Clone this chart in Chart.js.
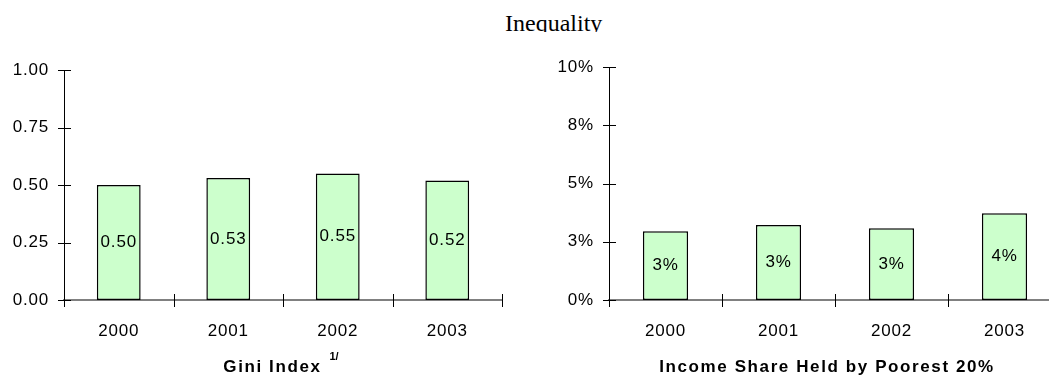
<!DOCTYPE html>
<html lang="en">
<head>
    <meta charset="UTF-8">
    <title>Inequality</title>
    <script src="https://cdn.jsdelivr.net/npm/chart.js"></script>
    <style>
        body { margin: 0; background: #fff; }
        .page { position: relative; width: 1049px; height: 381px; overflow: hidden; background: #fff; }
        .heading { position: absolute; left: 0; top: 0; width: 1049px; height: 32px; overflow: hidden; }
        .heading span { position: absolute; left: 505px; top: 11px; font: 24px/24px "Liberation Serif", "Times New Roman", serif; color: #000; }
        #giniChart { position: absolute; left: 0; top: 0; }
        #shareChart { position: absolute; left: 545px; top: 0; }
    </style>
</head>
<body>
<div class="page">
    <div class="heading"><span>Inequality</span></div>
    <canvas id="giniChart" width="520" height="381"></canvas>
    <canvas id="shareChart" width="520" height="381"></canvas>
</div>

<script>
    const years = ['2000', '2001', '2002', '2003'];
    const giniValues = [0.50, 0.53, 0.55, 0.52];
    const poorestShare = [2.95, 3.22, 3.08, 3.72]; // percent of income
    const giniTicks = [0, 0.25, 0.5, 0.75, 1];
    const shareTicks = [0, 2.5, 5, 7.5, 10];

    const FONT = '"Liberation Sans", Arial, sans-serif';
    Chart.defaults.font.family = FONT;
    Chart.defaults.font.size = 17;
    Chart.defaults.color = '#000';

    // small crosses on both axes at every tick / category boundary
    const crossTicks = {
        id: 'crossTicks',
        afterDatasetsDraw(chart) {
            const { ctx, scales: { x, y } } = chart;
            ctx.save();
            ctx.strokeStyle = '#000';
            ctx.lineWidth = 1;
            ctx.beginPath();
            y.ticks.forEach(t => {
                const py = Math.round(y.getPixelForValue(t.value)) + 0.5;
                ctx.moveTo(x.left - 6, py);
                ctx.lineTo(x.left + 7, py);
            });
            for (let i = 0; i <= x.ticks.length; i++) {
                const px = Math.round(x.getPixelForValue(i - 0.5)) + 0.5;
                ctx.moveTo(px, y.bottom - 6);
                ctx.lineTo(px, y.bottom + 7);
            }
            ctx.stroke();
            ctx.restore();
        }
    };

    // value printed in the middle of each bar
    const barValues = {
        id: 'barValues',
        afterDatasetsDraw(chart, args, opts) {
            const { ctx } = chart;
            const data = chart.data.datasets[0].data;
            ctx.save();
            ctx.font = '17px ' + FONT;
            ctx.letterSpacing = '0.8px';
            ctx.fillStyle = '#000';
            ctx.textAlign = 'center';
            ctx.textBaseline = 'middle';
            chart.getDatasetMeta(0).data.forEach((bar, i) => {
                const v = data[i];
                const txt = opts.percent ? Math.round(v) + '%' : v.toFixed(2);
                ctx.fillText(txt, bar.x, (bar.y + bar.base) / 2);
            });
            ctx.restore();
        }
    };

    // bold caption under the x axis, with optional superscript note
    const axisCaption = {
        id: 'axisCaption',
        beforeDraw(chart) {
            chart.ctx.letterSpacing = '0.8px';
        },
        afterDraw(chart, args, opts) {
            const { ctx, chartArea } = chart;
            ctx.save();
            ctx.fillStyle = '#000';
            ctx.textAlign = 'left';
            ctx.textBaseline = 'alphabetic';
            ctx.font = 'bold 17px ' + FONT;
            ctx.letterSpacing = '1.6px';
            const mainW = ctx.measureText(opts.text).width;
            let supW = 0;
            if (opts.sup) {
                ctx.font = 'bold 11px ' + FONT;
                ctx.letterSpacing = '0px';
                supW = ctx.measureText(opts.sup).width + 8;
            }
            const cx = (chartArea.left + chartArea.right) / 2 + (opts.shiftX || 0);
            const x0 = cx - (mainW + supW) / 2;
            ctx.font = 'bold 17px ' + FONT;
            ctx.letterSpacing = '1.6px';
            ctx.fillText(opts.text, x0, opts.baseline);
            if (opts.sup) {
                ctx.font = 'bold 11px ' + FONT;
                ctx.letterSpacing = '0px';
                ctx.fillText(opts.sup, x0 + mainW + 8, opts.baseline - 12);
            }
            ctx.restore();
        }
    };

    function makeChart(id, values, tickList, opts) {
        return new Chart(document.getElementById(id), {
            type: 'bar',
            data: {
                labels: years,
                datasets: [{
                    data: values,
                    backgroundColor: '#CCFFCC',
                    borderColor: '#000',
                    borderWidth: 1.5,
                    borderSkipped: false,
                    categoryPercentage: 1,
                    barPercentage: 0.4
                }]
            },
            options: {
                responsive: false,
                animation: false,
                devicePixelRatio: 1,
                layout: { padding: { left: 0, top: opts.top, right: opts.right, bottom: 0 } },
                plugins: {
                    legend: { display: false },
                    tooltip: { enabled: false },
                    barValues: { percent: opts.percent },
                    axisCaption: { text: opts.caption, sup: opts.sup, shiftX: opts.shiftX, baseline: 372 }
                },
                scales: {
                    x: {
                        offset: true,
                        grid: { display: false, drawTicks: false },
                        border: { display: true, color: '#808080', width: 2 },
                        ticks: { padding: 21, maxRotation: 0, autoSkip: false },
                        afterFit(s) { s.height = 81; }
                    },
                    y: {
                        min: 0,
                        max: opts.max,
                        grid: { display: false, drawTicks: false },
                        border: { display: true, color: '#000', width: 1 },
                        ticks: {
                            padding: 15,
                            callback: v => opts.percent ? v.toFixed(0) + '%' : v.toFixed(2)
                        },
                        afterBuildTicks(s) { s.ticks = tickList.map(v => ({ value: v })); },
                        afterFit(s) { s.width = 64; }
                    }
                }
            },
            plugins: [crossTicks, barValues, axisCaption]
        });
    }

    makeChart('giniChart', giniValues, giniTicks, {
        top: 70, right: 18, max: 1, percent: false,
        caption: 'Gini Index', sup: '1/', shiftX: -2
    });

    makeChart('shareChart', poorestShare, shareTicks, {
        top: 67, right: 4, max: 10, percent: true,
        caption: 'Income Share Held by Poorest 20%', sup: '', shiftX: -8
    });
</script>
</body>
</html>
